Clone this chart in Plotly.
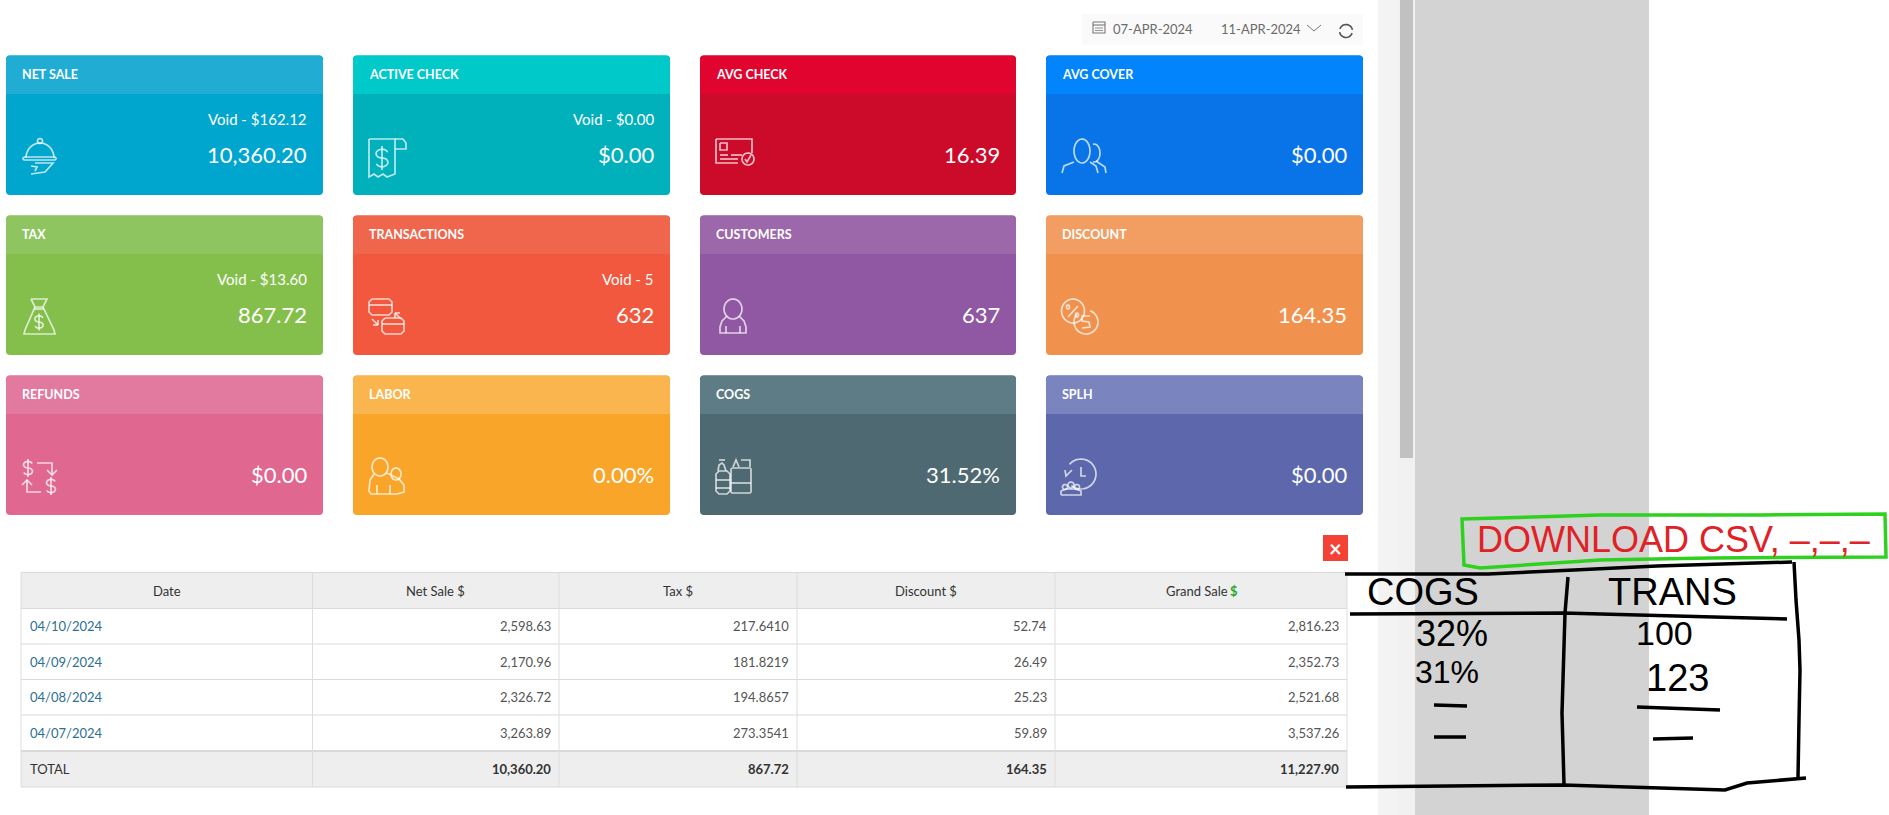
import numpy as np
import plotly.graph_objects as go

# ---- data ----
card_titles = ["NET SALE", "ACTIVE CHECK", "AVG CHECK", "AVG COVER",
               "TAX", "TRANSACTIONS", "CUSTOMERS", "DISCOUNT",
               "REFUNDS", "LABOR", "COGS", "SPLH"]
card_values = ["10,360.20", "$0.00", "16.39", "$0.00",
               "867.72", "632", "637", "164.35",
               "$0.00", "0.00%", "31.52%", "$0.00"]
card_voids = ["Void - $162.12", "Void - $0.00", "", "",
              "Void - $13.60", "Void - 5", "", "",
              "", "", "", ""]
card_body = ["#00A6CE", "#00B0BB", "#CC0B2A", "#0874E8",
             "#84BF4B", "#F1583D", "#9057A2", "#F0924E",
             "#DF6790", "#F9A52A", "#4E6972", "#5C68AB"]
card_head = ["#21ACD3", "#00C9CA", "#E0042F", "#0184FC",
             "#8EC561", "#F0664C", "#9C68AA", "#F29E62",
             "#E27AA0", "#FAB54F", "#5E7C85", "#7A84BE"]

table_columns = ["Date", "Net Sale $", "Tax $", "Discount $", "Grand Sale $"]
dates = ["04/10/2024", "04/09/2024", "04/08/2024", "04/07/2024"]
net_sale = ["2,598.63", "2,170.96", "2,326.72", "3,263.89"]
tax = ["217.6410", "181.8219", "194.8657", "273.3541"]
discount = ["52.74", "26.49", "25.23", "59.89"]
grand_sale = ["2,816.23", "2,352.73", "2,521.68", "3,537.26"]
totals = ["TOTAL", "10,360.20", "867.72", "164.35", "11,227.90"]

date_from = "07-APR-2024"
date_to = "11-APR-2024"
note_title = "DOWNLOAD CSV, –,–,–"
note_cogs = ["COGS", "32%", "31%"]
note_trans = ["TRANS", "100", "123"]

# ---- page geometry ----
COLX = [(6, 323), (353, 670), (700, 1016), (1046, 1363)]
ROWY = [(55.5, 195), (215.5, 355), (375.5, 515)]
HEAD_H = 39
TAB_X = [21, 312.5, 559, 797, 1055, 1347]
TAB_Y = [572.5, 608.5, 644, 679.5, 715, 751, 787]
FONT = "Lato, Carlito, 'Open Sans', sans-serif"

shapes, notes = [], []


def rect(x0, y0, x1, y1, fill, line=None, lw=0):
    shapes.append(dict(type="rect", xref="x", yref="y", x0=x0, y0=y0, x1=x1, y1=y1,
                       fillcolor=fill, line=dict(color=line or fill, width=lw), layer="below"))


def rounded(x0, y0, x1, y1, r, fill, bottom=True):
    b = (f"L{x1},{y1-r} Q{x1},{y1} {x1-r},{y1} L{x0+r},{y1} Q{x0},{y1} {x0},{y1-r}"
         if bottom else f"L{x1},{y1} L{x0},{y1}")
    path = f"M{x0+r},{y0} L{x1-r},{y0} Q{x1},{y0} {x1},{y0+r} {b} L{x0},{y0+r} Q{x0},{y0} {x0+r},{y0} Z"
    shapes.append(dict(type="path", xref="x", yref="y", path=path, fillcolor=fill,
                       line=dict(width=0), layer="below"))


def stroke(points, color, width=1.4, ox=0, oy=0, close=False):
    d = "M" + " L".join(f"{x+ox:.2f},{y+oy:.2f}" for x, y in points) + (" Z" if close else "")
    shapes.append(dict(type="path", xref="x", yref="y", path=d,
                       line=dict(color=color, width=width), fillcolor="rgba(0,0,0,0)"))


def text(x, y, s, size=13, color="#333", anchor="left", bold=False, font=FONT, angle=0):
    notes.append(dict(x=x, y=y, xref="x", yref="y", text=f"<b>{s}</b>" if bold else s,
                      showarrow=False, xanchor=anchor, yanchor="middle", textangle=angle,
                      font=dict(family=font, size=size, color=color),
                      borderpad=0, borderwidth=0))


def arc(cx, cy, rx, ry, a0=0, a1=360, n=28):
    t = np.radians(np.linspace(a0, a1, n))
    return list(zip(cx + rx * np.cos(t), cy + ry * np.sin(t)))


def box(x0, y0, x1, y1, r=2):
    return [(x0+r, y0), (x1-r, y0), (x1, y0+r), (x1, y1-r), (x1-r, y1), (x0+r, y1),
            (x0, y1-r), (x0, y0+r), (x0+r, y0)]


def dollar(cx, cy, h):
    w = h * 0.3
    s = arc(cx, cy - h*0.22, w, h*0.22, -20, -270, 12) + arc(cx, cy + h*0.22, w, h*0.22, -90, 160, 12)
    return [s, [(cx, cy - h*0.6), (cx, cy + h*0.6)]]


ICON_SHIFT = {0: 17, 1: 16, 3: 16, 4: 17}


def icon(idx):
    """Outline icons, drawn in page pixels around each card's lower-left corner."""
    x0 = COLX[idx % 4][0] + ICON_SHIFT.get(idx, 0)
    y0 = 55 + 160 * (idx // 4)
    L = []
    if idx == 0:
        L += [arc(17, 103, 14, 15, 180, 360), box(0, 102, 33, 105, 1), arc(17, 86, 2.5, 2.5),
              [(12, 108), (30, 108), (22, 117), (8, 119)], [(8, 111), (14, 112), (12, 116)]]
    elif idx == 1:
        L += [[(0, 84), (0, 122), (5, 119), (9, 122), (14, 119), (18, 122), (26, 119), (26, 84), (0, 84)],
              [(26, 84), (34, 84), (37, 88), (37, 94), (26, 94)]]
        L += dollar(13, 103, 20)
    elif idx == 2:
        L += [[(16, 84), (52, 84), (52, 98)], [(16, 84), (16, 108), (38, 108)],
              box(20, 88, 27, 95, 0), [(20, 100), (28, 100)], [(31, 100), (42, 100)], [(20, 104), (38, 104)],
              arc(48, 104, 6, 6), [(45, 104), (47, 107), (51, 100)]]
    elif idx == 3:
        L += [arc(20, 96, 8, 12), [(0, 118), (2, 111), (12, 107)], [(28, 107), (34, 111), (36, 118)],
              arc(32, 98, 6, 9, -100, 100), [(34, 106), (43, 112), (44, 118)]]
    elif idx == 4:
        L += [[(8, 84), (24, 84), (20, 92), (12, 92), (8, 84)],
              [(12, 92), (2, 115), (1, 119), (32, 119), (31, 115), (20, 92)], [(11, 94), (21, 94)]]
        L += dollar(16, 107, 14)
    elif idx == 5:
        L += [box(16, 84, 39, 100, 3), [(16, 90), (39, 90)], box(29, 103, 51, 119, 3), [(29, 109), (51, 109)],
              [(42, 98), (48, 104)], [(42, 98), (47, 98)], [(42, 98), (42, 103)],
              [(19, 104), (25, 110)], [(25, 110), (20, 110)], [(25, 110), (25, 105)]]
    elif idx == 6:
        L += [arc(33, 94, 9, 10), [(27, 101), (22, 106), (20, 112), (20, 118), (46, 118), (46, 112), (44, 106), (39, 101)],
              [(26, 118), (26, 111)], [(40, 118), (40, 111)]]
    elif idx == 7:
        L += [arc(27, 96, 11.5, 12), arc(40, 107, 12, 12, -70, 220), arc(22, 92, 1.5, 2), arc(31, 100, 1.5, 2),
              [(32, 91), (22, 102)], [(44, 101), (36, 101), (36, 106), (43, 107), (44, 112), (36, 113)]]
    elif idx == 8:
        L += dollar(22, 93, 15) + dollar(45, 111, 15)
        L += [[(31, 88), (46, 88), (46, 100)], [(41, 95), (46, 100), (51, 95)],
              [(35, 117), (21, 117), (21, 105)], [(16, 110), (21, 105), (26, 110)]]
    elif idx == 9:
        L += [arc(27, 92, 8, 9), [(21, 99), (17, 105), (16, 116), (18, 119), (44, 119), (51, 117), (51, 110), (46, 104), (36, 99), (33, 98)],
              arc(43, 99, 5, 6), [(24, 119), (24, 110)], [(37, 119), (37, 110)]]
    elif idx == 10:
        L += [box(16, 96, 30, 119, 3), [(18, 96), (19, 90), (22, 88), (24, 90), (26, 96)], [(19, 85), (25, 85)],
              [(16, 105), (30, 105)], [(16, 113), (30, 113)],
              box(31, 93, 51, 118, 1), [(31, 108), (51, 108)], [(33, 92), (36, 85), (39, 92)], [(41, 85), (50, 85), (50, 92)]]
    elif idx == 11:
        L += [arc(35, 99, 15, 15, -140, 130), [(19, 95), (20, 101), (26, 95)], [(35, 92), (35, 101), (40, 101)],
              arc(25, 110, 3, 3), arc(19, 112, 2.5, 2.5), arc(31, 112, 2.5, 2.5),
              [(15, 120), (15, 116), (20, 114), (30, 114), (35, 116), (35, 120), (15, 120)]]
    for p in L:
        stroke(p, "rgba(255,255,255,0.72)", 1.7, x0, y0)


# ---- page backdrop ----
rect(1378, 0, 1398, 815, "#F3F3F3")
rect(1398, 0, 1415, 815, "#F1F1F1")
rect(1400, 0, 1413, 458, "#C1C1C1")
rect(1415, 0, 1649, 815, "#D3D3D3")

# ---- date bar ----
rect(1082, 14, 1363, 45, "#FAFAFA")
stroke(box(1093, 22, 1105, 33, 0), "#777", 1.1)
stroke([(1093, 25), (1105, 25)], "#777", 1.1)
stroke([(1095, 28), (1103, 28)], "#999", 1.1)
stroke([(1095, 30.5), (1103, 30.5)], "#999", 1.1)
text(1113, 29, date_from, 13, "#6B6B6B")
text(1221, 29, date_to, 13, "#6B6B6B")
stroke([(1307, 25), (1314, 31), (1321, 25)], "#777", 1)
stroke(arc(1346, 31, 6.5, 6.5, 200, 350, 12), "#555", 1.6)
stroke(arc(1346, 31, 6.5, 6.5, 20, 170, 12), "#555", 1.6)

# ---- cards ----
for i, title in enumerate(card_titles):
    x0, x1 = COLX[i % 4]
    y0, y1 = ROWY[i // 4]
    top = 55 + 160 * (i // 4)
    rounded(x0, y0, x1, y1, 4, card_body[i])
    rounded(x0, y0, x1, top + HEAD_H, 4, card_head[i], bottom=False)
    text(x0 + 16, top + 19.5, title, 12.5, "white", bold=True)
    if card_voids[i]:
        text(x1 - 16, top + 64, card_voids[i], 15, "white", "right")
    text(x1 - 16, top + 99, card_values[i], 22, "white", "right")
    icon(i)

# ---- close button ----
rect(1323, 535, 1348, 561, "#F44336")
text(1335.5, 548, "×", 22, "white", "center", bold=True)

# ---- table ----
rect(TAB_X[0], TAB_Y[0], TAB_X[-1], TAB_Y[1], "#EEEEEE")
rect(TAB_X[0], TAB_Y[5], TAB_X[-1], TAB_Y[6], "#EEEEEE")
for yy in TAB_Y:
    shapes.append(dict(type="line", xref="x", yref="y", x0=TAB_X[0], x1=TAB_X[-1], y0=yy, y1=yy,
                       line=dict(color="#D9D9D9", width=2 if yy == TAB_Y[5] else 1), layer="below"))
for xx in TAB_X:
    shapes.append(dict(type="line", xref="x", yref="y", x0=xx, x1=xx, y0=TAB_Y[0], y1=TAB_Y[-1],
                       line=dict(color="#DDDDDD", width=1), layer="below"))
for c, head in enumerate(table_columns):
    cx = (TAB_X[c] + TAB_X[c + 1]) / 2
    if c == 4:
        text(cx - 3, 590.5, "Grand Sale ", 13, "#333", "center")
        text(cx + 32.5, 590.5, "$", 13, "#2EA82E", "center", bold=True)
    else:
        text(cx, 590.5, head, 13, "#333", "center")
rows = [dates, net_sale, tax, discount, grand_sale]
for c, col in enumerate(rows):
    for r, val in enumerate(col):
        yy = (TAB_Y[r + 1] + TAB_Y[r + 2]) / 2
        if c == 0:
            text(TAB_X[0] + 9, yy, val, 13, "#2D6F92")
        else:
            text(TAB_X[c + 1] - 8, yy, val, 13, "#555", "right")
yy = (TAB_Y[5] + TAB_Y[6]) / 2
for c, val in enumerate(totals):
    if c == 0:
        text(TAB_X[0] + 9, yy, val, 13, "#333")
    else:
        text(TAB_X[c + 1] - 8, yy, val, 13, "#333", "right", bold=True)

# ---- hand-written note ----
HAND = "'Liberation Sans Narrow', 'Liberation Sans', sans-serif"
stroke([(1462, 519), (1600, 515), (1760, 515), (1885, 514), (1886, 557), (1710, 558),
        (1600, 560), (1480, 568), (1464, 565)], "#2FD11F", 3.5, close=True)
text(1477, 539, note_title, 36, "#E02226", font=HAND)

black = "#000000"
W = 3.5
stroke([(1345, 574), (1488, 574), (1574, 570), (1657, 566), (1792, 562)], black, W)
stroke([(1794, 562), (1796, 600), (1799, 640), (1800, 670), (1799, 720), (1798, 778)], black, W)
stroke([(1346, 787), (1563, 785), (1725, 790), (1747, 783), (1806, 778)], black, W)
stroke([(1568, 577), (1565, 613), (1562, 713), (1564, 784)], black, W)
stroke([(1350, 614), (1563, 613), (1676, 616), (1787, 619)], black, W)
stroke([(1434, 705), (1467, 706)], black, W)
stroke([(1434, 737), (1466, 737)], black, W)
stroke([(1637, 707), (1720, 710)], black, W)
stroke([(1653, 739), (1693, 738)], black, W)

for vals, xs, ys, sizes in [
    (note_cogs, [1423, 1452, 1447], [592, 633, 672], [38, 36, 32]),
    (note_trans, [1672, 1664, 1677], [592, 633, 678], [38, 34, 38]),
]:
    for v, xx, yy, ss in zip(vals, xs, ys, sizes):
        text(xx, yy, v, ss, black, "center", font=HAND)

fig = go.Figure(go.Scatter(x=[0, 1889], y=[0, 815], mode="markers", marker=dict(opacity=0),
                           hoverinfo="skip", showlegend=False))
fig.update_layout(width=1889, height=815, autosize=False,
                  margin=dict(l=0, r=0, t=0, b=0), paper_bgcolor="white", plot_bgcolor="white",
                  xaxis=dict(range=[0, 1889], visible=False, fixedrange=True),
                  yaxis=dict(range=[815, 0], visible=False, fixedrange=True),
                  shapes=shapes, annotations=notes, showlegend=False)
fig.write_html("out.html", config=dict(displayModeBar=False),
               post_script="document.body.style.margin='0';document.body.style.overflow='hidden';")
